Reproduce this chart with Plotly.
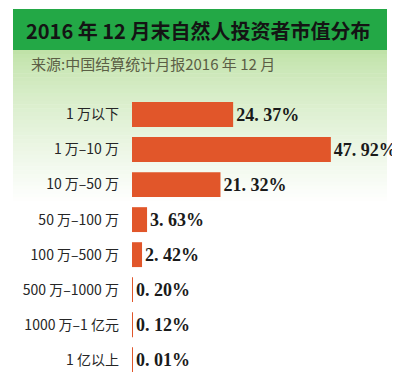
import plotly.graph_objects as go

categories = ["1 万以下", "1 万–10 万", "10 万–50 万", "50 万–100 万",
              "100 万–500 万", "500 万–1000 万", "1000 万–1 亿元", "1 亿以上"]
values = [24.37, 47.92, 21.32, 3.63, 2.42, 0.20, 0.12, 0.01]
title_text = "2016 年 12 月末自然人投资者市值分布"
source_text = "来源:中国结算统计月报2016 年 12 月"

# page body has an 8px default margin: build figure to fill the rest of the window
OFF = 8
W, H = 400 - OFF, 372 - OFF
L, R, T, B = 132 - OFF, 18, 97 - OFF, 0
PW, PH = W - L - R, H - T - B

def px(x):
    return (x - OFF - L) / PW

def py(y):
    return 1 - (y - OFF - T) / PH

labels = [f"{v:.2f}%".replace(".", ". ") for v in values]

fig = go.Figure(go.Bar(
    x=values, y=categories, orientation="h",
    marker=dict(color="#E1562A", line=dict(width=0)),
    text=labels, textposition="outside", cliponaxis=False,
    constraintext="none",
    textfont=dict(family="Liberation Serif", size=18, color="#1a1a1a", weight="bold"),
))

shapes = []
# gradient band under the title
y0, y1 = 50, 205
n = 40
c0 = (192, 226, 168)
for i in range(n):
    t = i / (n - 1)
    tt = t ** 0.8
    c = tuple(int(round(c0[k] + (255 - c0[k]) * tt)) for k in range(3))
    ya = y0 + (y1 - y0) * i / n
    yb = y0 + (y1 - y0) * (i + 1) / n + 0.5
    shapes.append(dict(type="rect", xref="paper", yref="paper",
                       x0=px(13), x1=px(387), y0=py(ya), y1=py(yb),
                       fillcolor=f"rgb{c}", line=dict(width=0), layer="below"))
# green title bar
shapes.append(dict(type="rect", xref="paper", yref="paper",
                   x0=px(13), x1=px(387), y0=py(9), y1=py(50),
                   fillcolor="#23A846", line=dict(width=0), layer="below"))

annotations = [
    dict(text=f"<b>{title_text}</b>", xref="paper", yref="paper",
         x=px(198), y=py(30), xanchor="center", yanchor="middle", showarrow=False,
         font=dict(family="Noto Sans CJK SC", size=20, color="#141414")),
    dict(text=source_text, xref="paper", yref="paper",
         x=px(29), y=py(63), xanchor="left", yanchor="middle", showarrow=False,
         font=dict(family="Noto Sans CJK SC", size=15, color="#5b5e45")),
]

fig.update_layout(
    width=W, height=H,
    margin=dict(l=L, r=R, t=T, b=B, pad=0, autoexpand=False),
    paper_bgcolor="white", plot_bgcolor="rgba(0,0,0,0)",
    showlegend=False, bargap=0.29,
    shapes=shapes, annotations=annotations,
    xaxis=dict(range=[0, PW / 4.15], visible=False, fixedrange=True, automargin=False),
    yaxis=dict(range=[7.35, -0.5], autorange=False, showgrid=False, zeroline=False,
               showline=False, ticks="", ticklabelstandoff=12, automargin=False,
               tickfont=dict(family="Noto Sans CJK SC", size=14, color="#262626")),
)

fig.write_html("out.html")
